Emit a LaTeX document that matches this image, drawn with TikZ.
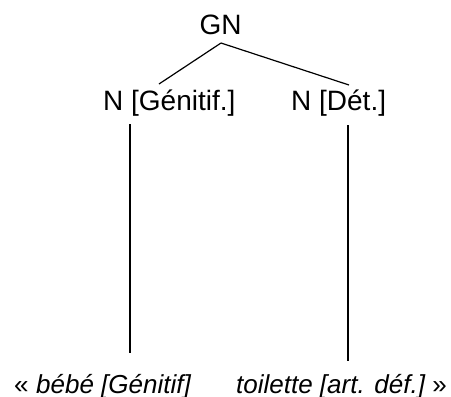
\documentclass[tikz,border=0pt]{standalone}
\usepackage{fontspec}
\setmainfont{Liberation Sans}
\begin{document}
\begin{tikzpicture}[x=1pt,y=-1pt,
  lab/.style={inner sep=0pt,font=\fontsize{28}{34}\selectfont},
  leaf/.style={inner sep=0pt,font=\fontsize{26}{31}\selectfont},
  edge/.style={line width=1.2pt,line cap=butt}]
\useasboundingbox (0,0) rectangle (451,397);
\node[lab,anchor=base] (gn) at (220.5,34) {GN};
\node[lab,anchor=base west] (ng) at (103,110) {N [Génitif.]};
\node[lab,anchor=base west] (nd) at (291,110) {N [Dét.]};
\node[leaf,anchor=base west] (qo) at (14,393) {«};
\node[leaf,anchor=base west] (w1) at (36,393) {\itshape bébé [Génitif]};
\node[leaf,anchor=base west] (w2) at (236,393) {\itshape toilette [art. déf.]\upshape\ »};
\coordinate (apex) at (221,43);
\coordinate (ngtop) at (159,84);
\coordinate (ndtop) at (349,85);
\coordinate (ngbot) at (130,124);
\coordinate (ndbot) at (348,125);
\coordinate (w1top) at (130,353);
\coordinate (w2top) at (348,361);
\draw[edge] (apex) -- (ngtop);
\draw[edge] (apex) -- (ndtop);
\draw[edge] (ngbot) -- (w1top);
\draw[edge] (ndbot) -- (w2top);
\end{tikzpicture}
\end{document}
